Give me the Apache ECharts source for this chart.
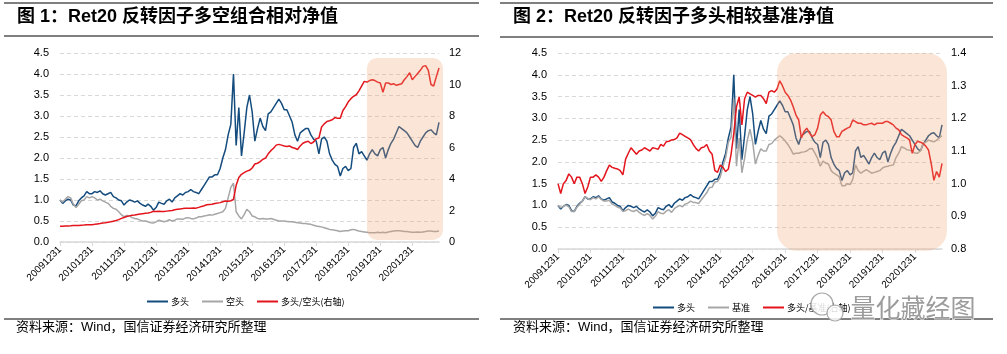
<!DOCTYPE html>
<html>
<head>
<meta charset="utf-8">
<script src="https://cdn.jsdelivr.net/npm/echarts@6.0.0/dist/echarts.min.js"></script>
<style>
html, body { margin: 0; padding: 0; background: #fff; }
#main { width: 1007px; height: 354px; }
</style>
</head>
<body>
<div id="main"></div>
<script>
// month-end dates, 20091231 .. 20211029
let years = [2010, 2011, 2012, 2013, 2014, 2015, 2016, 2017, 2018, 2019, 2020, 2021]
let monthEnds = ['0129', '0226', '0331', '0430', '0531', '0630', '0730', '0831', '0930', '1029', '1130', '1231']
let dates = ['20091231']
years.forEach(function (y) {
  monthEnds.forEach(function (m, i) {
    if (y === 2021 && i > 9) return
    dates.push(y + m)
  })
})

// 多头 (long leg net value)
let longNav = [1.0,
  0.92, 0.98, 1.02, 1.0, 0.88, 0.86, 0.98, 1.05, 1.1, 1.2, 1.15, 1.15,
  1.2, 1.18, 1.22, 1.15, 1.12, 1.15, 1.18, 1.08, 1.05, 1.0, 0.98, 0.88,
  0.95, 1.0, 0.98, 0.95, 0.98, 0.92, 0.88, 0.85, 0.9, 0.85, 0.76, 0.82,
  0.95, 0.92, 0.9, 0.98, 1.02, 0.95, 1.05, 1.1, 1.15, 1.12, 1.18, 1.2,
  1.25, 1.2, 1.18, 1.15, 1.25, 1.35, 1.45, 1.55, 1.55, 1.6, 1.6, 1.75,
  2.0, 2.2, 2.55, 2.8, 4.0, 2.3, 3.2, 2.05, 2.6, 3.2, 3.5, 3.1,
  2.4, 2.7, 2.95, 2.75, 2.65, 3.05, 3.1, 3.2, 3.3, 3.4, 3.3, 3.15,
  3.15, 3.0, 2.85, 2.55, 2.4, 2.6, 2.65, 2.7, 2.7, 2.55, 2.45, 2.4,
  2.1, 2.45, 2.5, 2.4, 2.1, 1.95, 1.85, 1.8, 1.57, 1.75, 1.8, 1.7,
  1.75, 2.25, 2.35, 2.1, 2.15, 2.05, 1.95, 2.1, 2.2, 2.1, 2.05, 2.2,
  2.25, 2.0, 2.2, 2.35, 2.45, 2.6, 2.75, 2.7, 2.65, 2.6, 2.5, 2.4,
  2.3, 2.25, 2.4, 2.5, 2.6, 2.65, 2.67, 2.6, 2.55, 2.85]

// 空头 (short leg net value)
let shortNav = [1.0,
  0.95, 1.02, 1.08, 1.05, 0.9, 0.82, 0.9, 0.98, 1.0, 1.08, 1.05, 1.08,
  1.05, 1.0, 1.02, 0.98, 0.95, 0.92, 0.85, 0.8, 0.78, 0.72, 0.65, 0.6,
  0.63, 0.62, 0.58, 0.56, 0.55, 0.52, 0.5, 0.5, 0.48, 0.46, 0.45, 0.48,
  0.52, 0.5, 0.48, 0.5, 0.53, 0.5, 0.52, 0.55, 0.55, 0.54, 0.57, 0.58,
  0.56, 0.55, 0.57, 0.6, 0.6, 0.62, 0.63, 0.65, 0.64, 0.66, 0.68, 0.7,
  0.72, 0.8, 1.05, 1.3, 1.4, 0.72, 0.62, 0.55, 0.65, 0.78, 0.72, 0.62,
  0.6, 0.56, 0.55, 0.56, 0.55, 0.55, 0.56, 0.54, 0.52, 0.5, 0.5, 0.5,
  0.49, 0.48, 0.48, 0.47, 0.46, 0.45, 0.44, 0.44, 0.43, 0.42, 0.4, 0.38,
  0.37, 0.36, 0.34, 0.32, 0.3, 0.29, 0.28, 0.27, 0.25, 0.26, 0.27, 0.27,
  0.29, 0.3, 0.28, 0.26, 0.25, 0.24, 0.23, 0.22, 0.22, 0.22, 0.23, 0.22,
  0.23, 0.22, 0.24, 0.25, 0.26, 0.27, 0.27, 0.26, 0.25, 0.25, 0.24, 0.23,
  0.23, 0.24, 0.23, 0.24, 0.25, 0.26, 0.26, 0.25, 0.25, 0.26]

// 多头/空头 (right axis)
let longShortRatio = [1.0,
  1.0, 1.02, 1.02, 1.03, 1.05, 1.05, 1.05, 1.07, 1.08, 1.1, 1.1, 1.1,
  1.12, 1.15, 1.17, 1.2, 1.22, 1.25, 1.28, 1.32, 1.36, 1.42, 1.5, 1.56,
  1.62, 1.66, 1.7, 1.72, 1.75, 1.78, 1.8, 1.82, 1.84, 1.88, 1.95, 1.94,
  1.95, 1.93, 1.94, 1.96, 1.98, 2.0, 2.05, 2.08, 2.1, 2.12, 2.15, 2.14,
  2.15, 2.16, 2.15, 2.2, 2.25, 2.3, 2.36, 2.38, 2.4, 2.45, 2.47, 2.5,
  2.55, 2.6, 2.58, 2.62, 2.7, 3.6, 4.1, 4.3, 4.4, 4.5, 4.55, 4.7,
  4.95, 5.0, 5.1, 5.25, 5.33, 5.6, 5.8, 5.95, 6.15, 6.2, 6.15, 6.1,
  6.07, 6.1, 6.0, 5.95, 5.87, 6.1, 6.27, 6.35, 6.4, 6.25, 6.35, 6.55,
  6.6, 7.3, 7.5, 7.65, 7.7, 7.76, 7.9, 7.85, 7.86, 8.35, 8.6, 8.9,
  9.1, 9.25, 9.35, 9.6, 9.9, 10.2, 10.15, 10.25, 10.3, 10.25, 10.15, 10.1,
  9.5, 10.1, 10.1, 10.0, 10.05, 9.95, 10.0, 10.05, 10.3, 10.5, 10.75, 10.3,
  10.5, 10.7, 10.9, 11.15, 11.2, 10.9, 10.0, 9.9, 10.5, 11.05]

// 基准 (benchmark net value)
let benchNav = [1.0,
  0.95, 0.98, 1.01, 0.97, 0.86, 0.86, 0.96, 1.03, 1.1, 1.2, 1.16, 1.13,
  1.18, 1.15, 1.2, 1.14, 1.1, 1.1, 1.12, 1.03, 1.0, 0.96, 0.94, 0.86,
  0.88, 0.915, 0.88, 0.86, 0.9, 0.84, 0.8, 0.77, 0.81, 0.77, 0.69, 0.75,
  0.86, 0.82, 0.81, 0.87, 0.9, 0.84, 0.925, 0.965, 1.0, 0.97, 1.03, 1.05,
  1.1, 1.07, 1.065, 1.045, 1.13, 1.21, 1.29, 1.41, 1.42, 1.54, 1.55, 1.65,
  1.9, 2.1, 2.45, 2.57, 3.45, 1.9, 2.55, 1.75, 2.08, 2.5, 2.75, 2.45,
  1.95, 2.15, 2.3, 2.25, 2.25, 2.4, 2.42, 2.5, 2.55, 2.6, 2.55, 2.48,
  2.4, 2.3, 2.18, 2.2, 2.2, 2.22, 2.23, 2.25, 2.3, 2.31, 2.2, 2.08,
  1.9, 2.02, 1.97, 1.95, 1.8, 1.74, 1.7, 1.66, 1.45, 1.45, 1.5, 1.48,
  1.6, 1.93, 1.8, 1.74, 1.78, 1.82, 1.78, 1.74, 1.76, 1.78, 1.8, 1.86,
  1.89, 1.9, 1.92, 1.93, 2.1, 2.2, 2.35, 2.32, 2.28, 2.27, 2.24, 2.2,
  2.2, 2.25, 2.43, 2.45, 2.5, 2.48, 2.46, 2.5, 2.55, 2.6]

// 多头/基准 (right axis)
let longBenchRatio = [1.0,
  0.97, 1.0, 1.01, 1.03, 1.02, 1.0, 1.02, 1.02, 1.0, 0.97, 0.99, 1.02,
  1.02, 1.027, 1.02, 1.007, 1.02, 1.04, 1.057, 1.05, 1.047, 1.045, 1.04, 1.027,
  1.075, 1.093, 1.11, 1.1, 1.09, 1.1, 1.103, 1.11, 1.105, 1.1, 1.11, 1.108,
  1.105, 1.12, 1.115, 1.128, 1.13, 1.134, 1.135, 1.14, 1.155, 1.15, 1.145, 1.14,
  1.135, 1.12, 1.108, 1.1, 1.11, 1.112, 1.12, 1.1, 1.09, 1.04, 1.035, 1.057,
  1.05, 1.037, 1.045, 1.09, 1.153, 1.235, 1.266, 1.18, 1.26, 1.28, 1.275, 1.27,
  1.265, 1.27, 1.27, 1.26, 1.245, 1.28, 1.285, 1.28, 1.29, 1.315, 1.3, 1.28,
  1.27, 1.256, 1.235, 1.21, 1.195, 1.14, 1.16, 1.17, 1.155, 1.144, 1.15, 1.17,
  1.21, 1.22, 1.21, 1.205, 1.195, 1.16, 1.144, 1.144, 1.16, 1.165, 1.17, 1.174,
  1.195, 1.19, 1.185, 1.185, 1.18, 1.18, 1.183, 1.185, 1.18, 1.185, 1.185, 1.185,
  1.19, 1.19, 1.185, 1.18, 1.17, 1.165, 1.15, 1.145, 1.14, 1.134, 1.093, 1.12,
  1.13, 1.127, 1.123, 1.115, 1.103, 1.062, 1.01, 1.037, 1.02, 1.062]

// highlighted periods
let hl1Start = '20190730'
let hl2Start = '20160930'

let font = "'Liberation Sans', 'Noto Sans CJK SC', sans-serif"
let cjk = "'Noto Sans CJK SC', sans-serif"
let blue = '#154c7e'
let gray = '#a6a6a6'
let red = '#e3141c'

function isYearEnd(index, value) {
  return String(value).slice(4) === '1231'
}

function xAxisOf(gridIndex) {
  return {
    type: 'category', gridIndex: gridIndex, data: dates, boundaryGap: false,
    axisLine: { lineStyle: { color: '#d9d9d9', width: 1.5 } },
    axisTick: { interval: isYearEnd, length: 4, lineStyle: { color: '#d9d9d9' } },
    axisLabel: { interval: isYearEnd, rotate: 45, fontSize: 10, color: '#000', fontFamily: font, margin: 6 }
  }
}

function leftAxis(gridIndex) {
  return {
    type: 'value', gridIndex: gridIndex, min: 0, max: 4.5, interval: 0.5,
    axisLine: { show: false }, axisTick: { show: false },
    axisLabel: { fontSize: 11, color: '#000', fontFamily: font, margin: 11, formatter: v => v.toFixed(1) },
    splitLine: { lineStyle: { color: '#d9d9d9', type: [4, 3] } }
  }
}

function lineSeries(name, data, color, xi, yi) {
  return {
    name: name, type: 'line', data: data, xAxisIndex: xi, yAxisIndex: yi,
    symbol: 'none', color: color, lineStyle: { color: color, width: 1.5 },
    emphasis: { disabled: true }
  }
}

let legendBase = {
  icon: 'rect', itemWidth: 21, itemHeight: 2, itemGap: 13, padding: 0,
  textStyle: { fontSize: 9, color: '#000', fontFamily: cjk, padding: [0, 0, 0, -2] }
}

let chart = echarts.init(document.getElementById('main'))

let option = {
  animation: false,
  backgroundColor: '#fff',
  title: [
    { text: '图 1：Ret20 反转因子多空组合相对净值', left: 17, top: 8, padding: 0,
      textStyle: { fontSize: 18, fontWeight: 'bold', color: '#000', fontFamily: font } },
    { text: '图 2：Ret20 反转因子多头相较基准净值', left: 513, top: 8, padding: 0,
      textStyle: { fontSize: 18, fontWeight: 'bold', color: '#000', fontFamily: font } }
  ],
  grid: [
    { left: 60, right: 568, top: 53, bottom: 112, outerBoundsMode: 'none' },
    { left: 558, right: 65, top: 53, bottom: 105, outerBoundsMode: 'none' }
  ],
  xAxis: [xAxisOf(0), xAxisOf(1)],
  yAxis: [
    leftAxis(0),
    { type: 'value', gridIndex: 0, min: 0, max: 12, interval: 2, position: 'right',
      axisLine: { show: false }, axisTick: { show: false }, splitLine: { show: false },
      axisLabel: { fontSize: 11, color: '#000', fontFamily: font, margin: 10 } },
    leftAxis(1),
    { type: 'value', gridIndex: 1, min: 0.8, max: 1.4, interval: 0.1, position: 'right',
      axisLine: { show: false }, axisTick: { show: false }, splitLine: { show: false },
      axisLabel: { fontSize: 11, color: '#000', fontFamily: font, margin: 9, formatter: v => v.toFixed(1) } }
  ],
  legend: [
    Object.assign({}, legendBase, { left: 147, top: 297, data: ['多头', '空头', '多头/空头(右轴)'] }),
    Object.assign({}, legendBase, { left: 653, top: 303, data: ['多头', '基准', '多头/基准(右轴)'] })
  ],
  series: [
    lineSeries('多头', longNav, blue, 0, 0),
    lineSeries('空头', shortNav, gray, 0, 0),
    lineSeries('多头/空头(右轴)', longShortRatio, red, 0, 1),
    lineSeries('多头', longNav, blue, 1, 2),
    lineSeries('基准', benchNav, gray, 1, 2),
    lineSeries('多头/基准(右轴)', longBenchRatio, red, 1, 3)
  ]
}
chart.setOption(option)

// highlight boxes placed from the axes
let last = dates[dates.length - 1]
let b1x0 = chart.convertToPixel({ xAxisIndex: 0 }, hl1Start)
let b1x1 = chart.convertToPixel({ xAxisIndex: 0 }, last) + 4
let b1y0 = chart.convertToPixel({ yAxisIndex: 0 }, 4.38)
let b1y1 = chart.convertToPixel({ yAxisIndex: 0 }, 0.05)
let b2x0 = chart.convertToPixel({ xAxisIndex: 1 }, hl2Start)
let b2x1 = chart.convertToPixel({ xAxisIndex: 1 }, last) + 5
let b2y0 = chart.convertToPixel({ yAxisIndex: 2 }, 4.5)
let b2y1 = chart.convertToPixel({ yAxisIndex: 2 }, -0.04)

function hline(x1, x2, y) {
  return { type: 'line', shape: { x1: x1, y1: y, x2: x2, y2: y }, style: { stroke: '#000', lineWidth: 1 }, silent: true }
}

chart.setOption({
  graphic: [
    { type: 'rect', z: 10, silent: true,
      shape: { x: b1x0, y: b1y0, width: b1x1 - b1x0, height: b1y1 - b1y0, r: 10 },
      style: { fill: 'rgba(240,160,110,0.28)' } },
    { type: 'rect', z: 10, silent: true,
      shape: { x: b2x0, y: b2y0, width: b2x1 - b2x0, height: b2y1 - b2y0, r: 20 },
      style: { fill: 'rgba(240,160,110,0.28)' } },
    hline(4, 479, 3), hline(4, 479, 36), hline(4, 479, 319),
    hline(500, 993, 3), hline(500, 993, 37), hline(500, 993, 319),
    { type: 'text', left: 16, top: 321, silent: true,
      style: { text: '资料来源：Wind，国信证券经济研究所整理', fill: '#000', font: '13px ' + font } },
    { type: 'text', left: 513, top: 321, silent: true,
      style: { text: '资料来源：Wind，国信证券经济研究所整理', fill: '#000', font: '13px ' + font } },
    { type: 'circle', z: 20, silent: true, shape: { cx: 822, cy: 304, r: 11 },
      style: { fill: 'rgba(255,255,255,0.85)', stroke: '#a8a8a8', lineWidth: 1.2 } },
    { type: 'circle', z: 20, silent: true, shape: { cx: 835, cy: 313, r: 8 },
      style: { fill: 'rgba(255,255,255,0.85)', stroke: '#a8a8a8', lineWidth: 1.2 } },
    { type: 'text', z: 20, left: 850, top: 294, silent: true,
      style: { text: '量化藏经图', fill: '#9c9c9c', stroke: '#fff', lineWidth: 1, font: '25px ' + cjk } }
  ]
})
</script>
</body>
</html>
